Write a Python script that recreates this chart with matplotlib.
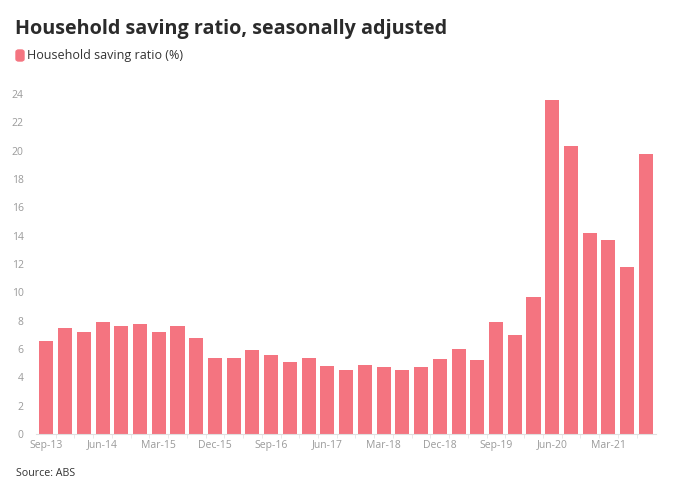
import matplotlib
matplotlib.use('Agg')
import matplotlib.pyplot as plt
from matplotlib.patches import FancyBboxPatch

# quarterly household saving ratio, Sep-13 .. Sep-21
quarters = ['Sep-13', 'Dec-13', 'Mar-14', 'Jun-14', 'Sep-14', 'Dec-14', 'Mar-15', 'Jun-15',
            'Sep-15', 'Dec-15', 'Mar-16', 'Jun-16', 'Sep-16', 'Dec-16', 'Mar-17', 'Jun-17',
            'Sep-17', 'Dec-17', 'Mar-18', 'Jun-18', 'Sep-18', 'Dec-18', 'Mar-19', 'Jun-19',
            'Sep-19', 'Dec-19', 'Mar-20', 'Jun-20', 'Sep-20', 'Dec-20', 'Mar-21', 'Jun-21',
            'Sep-21']
saving_ratio = [6.6, 7.5, 7.2, 7.9, 7.6, 7.8, 7.2, 7.6,
                6.8, 5.4, 5.4, 5.9, 5.6, 5.1, 5.4, 4.8,
                4.5, 4.9, 4.7, 4.5, 4.7, 5.3, 6.0, 5.2,
                7.9, 7.0, 9.7, 23.6, 20.3, 14.2, 13.7, 11.8,
                19.8]
y_ticks = [0, 2, 4, 6, 8, 10, 12, 14, 16, 18, 20, 22, 24]

barColor = '#f47480'
tickColor = '#9a9a9a'
fontName = 'Open Sans'

fig = plt.figure(figsize=(6.8, 4.95), dpi=100)
ax = fig.add_axes([0.053, 0.1232, 0.912, 0.6869])

x = list(range(len(quarters)))
ax.bar(x, saving_ratio, width=0.75, color=barColor)

ax.set_xlim(-0.55, len(quarters) - 0.45)
ax.set_ylim(0, 24)
ax.set_yticks(y_ticks)
ax.set_yticklabels([str(v) for v in y_ticks], fontsize=7.5, color=tickColor, family=fontName)
ax.set_xticks(x[::3])
ax.set_xticklabels(quarters[::3], fontsize=7.5, color=tickColor, family=fontName)
ax.set_xticks([i + 0.5 for i in x[:-1]], minor=True)

ax.tick_params(axis='y', length=0, pad=9)
ax.tick_params(axis='x', which='major', length=0, pad=4)
ax.tick_params(axis='x', which='minor', length=3, color='#e6e6e6')

for side in ['top', 'right', 'left']:
    ax.spines[side].set_visible(False)
ax.spines['bottom'].set_color('#e0e0e0')

fig.text(0.022, 0.942, 'Household saving ratio, seasonally adjusted', fontsize=14.2,
         fontweight='bold', color='#2b2b2b', family=fontName, va='center')

# legend marker + label
fig.patches.append(FancyBboxPatch((16 / 680, 1 - 61 / 495), 8 / 680, 11 / 495,
                                  boxstyle='round,pad=0,rounding_size=0.004',
                                  transform=fig.transFigure, color=barColor))
fig.text(27 / 680, 1 - 55 / 495, 'Household saving ratio (%)', fontsize=9,
         color='#333333', family=fontName, va='center')

fig.text(16 / 680, 1 - 473 / 495, 'Source: ABS', fontsize=7.7, color='#333333',
         family=fontName, va='center')

fig.savefig('out.png', dpi=100)
